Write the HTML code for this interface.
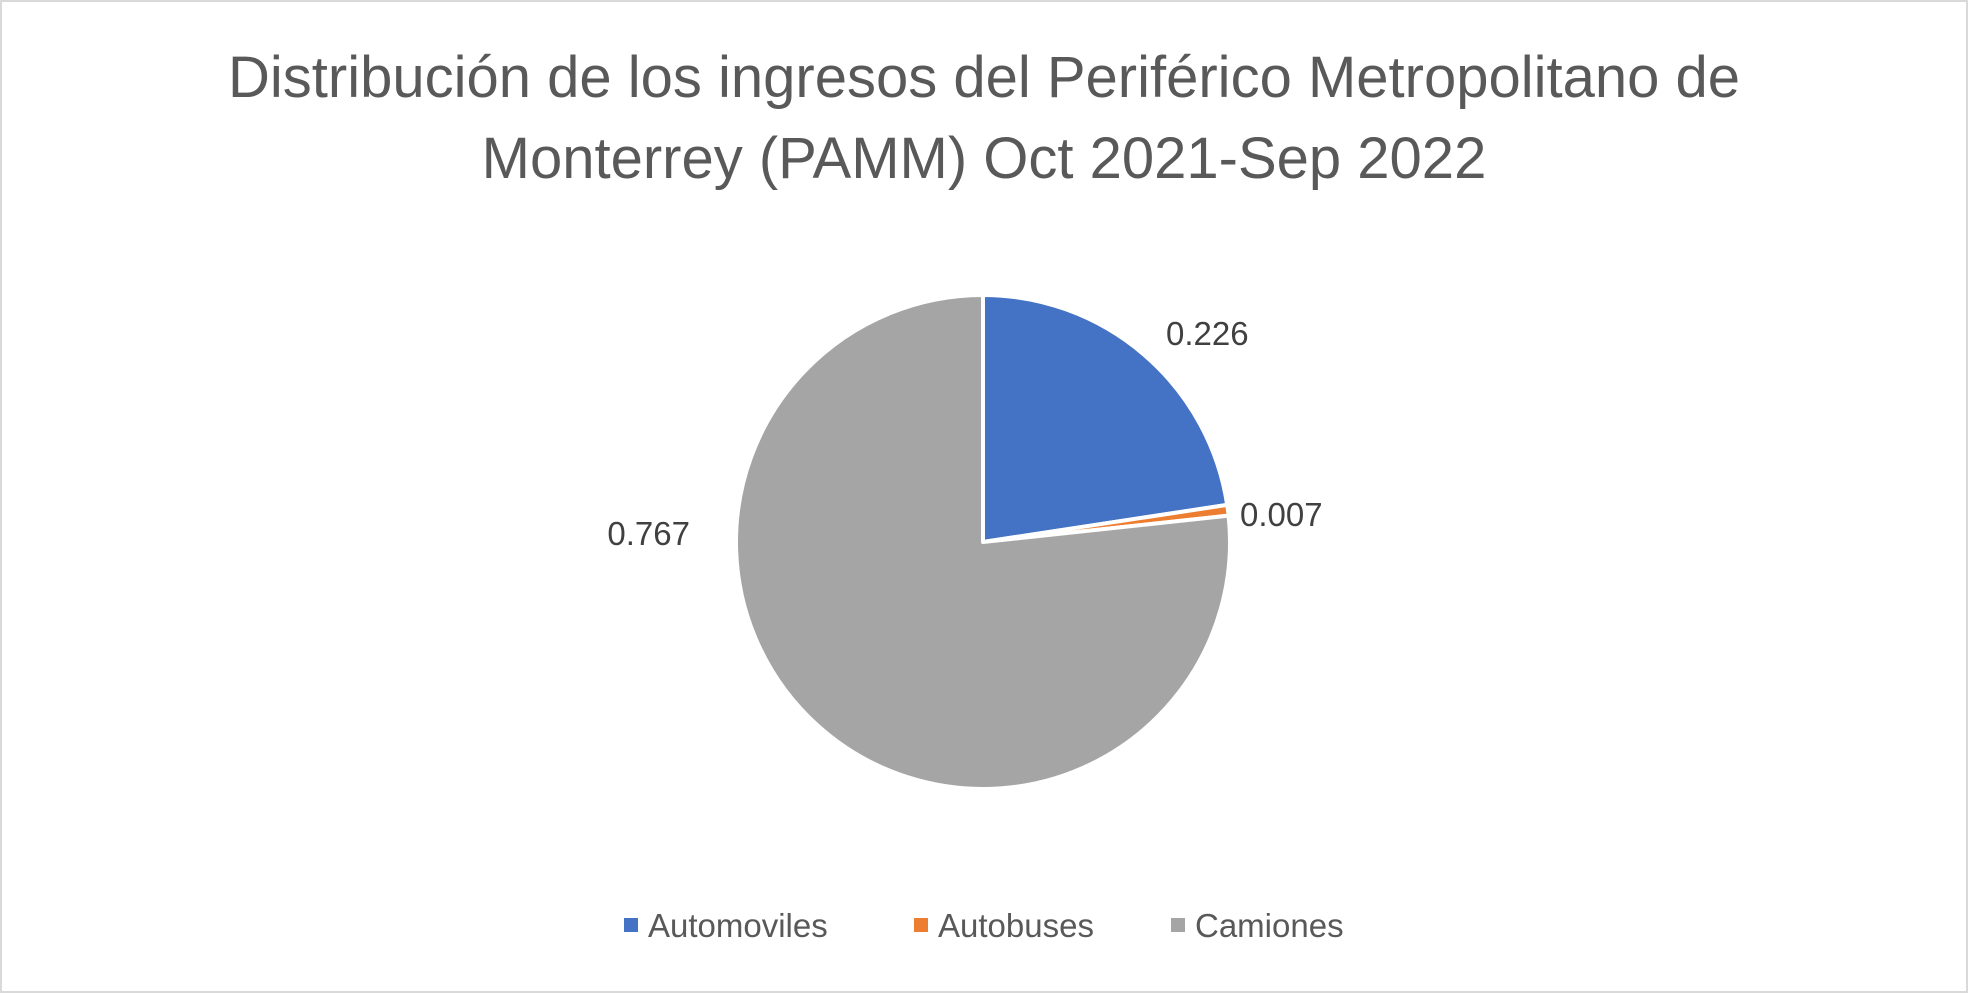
<!DOCTYPE html>
<html><head><meta charset="utf-8"><style>
html,body{margin:0;padding:0;background:#fff;}
svg{display:block;font-family:"Liberation Sans",sans-serif;}
</style></head><body>
<svg id="chart" width="1968" height="993" viewBox="0 0 1968 993">
<rect x="1" y="1" width="1966" height="991" fill="#fff" stroke="#d9d9d9" stroke-width="2"/>
<text x="984" y="97" text-anchor="middle" font-size="58" fill="#595959">Distribución de los ingresos del Periférico Metropolitano de</text>
<text x="984" y="178" text-anchor="middle" font-size="58" fill="#595959">Monterrey (PAMM) Oct 2021-Sep 2022</text>
<g id="slices"></g>
<g id="labels"></g>
<g id="legend"></g>
</svg>
<script>
const categories = ["Automoviles", "Autobuses", "Camiones"];
const values = [0.226, 0.007, 0.767];
const valueLabels = ["0.226", "0.007", "0.767"];
const colors = ["#4472c4", "#ed7d31", "#a5a5a5"];
const NS = "http://www.w3.org/2000/svg";
const cx = 983, cy = 542, r = 247;
const total = values.reduce((a, b) => a + b, 0);
function pt(frac, rad) {
  const a = frac * 2 * Math.PI - Math.PI / 2;
  return [cx + rad * Math.cos(a), cy + rad * Math.sin(a)];
}
// label layout (pixel placement, not data)
const labelPos = [[1166, 345, 'start'], [1240, 526, 'start'], [690, 545, 'end']];
const gS = document.getElementById('slices'), gL = document.getElementById('labels'), gG = document.getElementById('legend');
let acc = 0;
values.forEach((v, i) => {
  const f0 = acc / total, f1 = (acc + v) / total; acc += v;
  const [x0, y0] = pt(f0, r), [x1, y1] = pt(f1, r);
  const large = (f1 - f0) > 0.5 ? 1 : 0;
  const p = document.createElementNS(NS, 'path');
  p.setAttribute('d', `M${cx},${cy} L${x0},${y0} A${r},${r} 0 ${large} 1 ${x1},${y1} Z`);
  p.setAttribute('fill', colors[i]);
  p.setAttribute('stroke', '#fff');
  p.setAttribute('stroke-width', '4');
  p.setAttribute('stroke-linejoin', 'round');
  
  
  gS.appendChild(p);
  const t = document.createElementNS(NS, 'text');
  t.setAttribute('x', labelPos[i][0]);
  t.setAttribute('y', labelPos[i][1]);
  t.setAttribute('text-anchor', labelPos[i][2]);
  t.setAttribute('font-size', '33');
  t.setAttribute('fill', '#404040');
  t.textContent = valueLabels[i];
  
  
  gL.appendChild(t);
});
const legendX = [624, 914, 1171];
categories.forEach((c, i) => {
  const sq = document.createElementNS(NS, 'rect');
  sq.setAttribute('x', legendX[i]); sq.setAttribute('y', 918);
  sq.setAttribute('width', 14); sq.setAttribute('height', 14);
  sq.setAttribute('fill', colors[i]);
  
  
  gG.appendChild(sq);
  const t = document.createElementNS(NS, 'text');
  t.setAttribute('x', legendX[i] + 24); t.setAttribute('y', 937);
  t.setAttribute('font-size', '33'); t.setAttribute('fill', '#595959');
  t.textContent = c;
  
  
  gG.appendChild(t);
});
</script>
</body></html>
